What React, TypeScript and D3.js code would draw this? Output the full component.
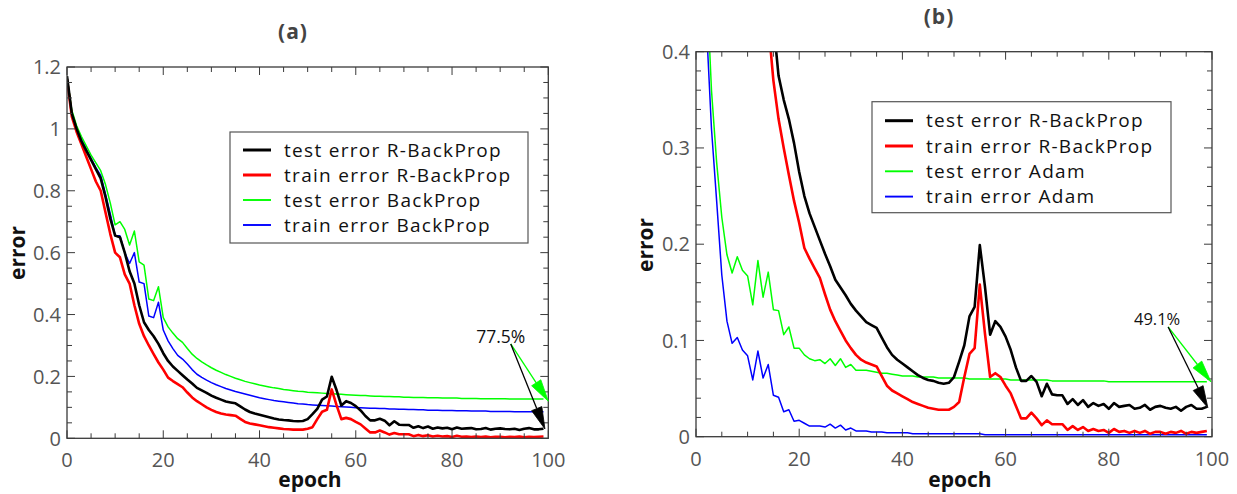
import React from "react";
import * as d3 from "d3";

const epochs = d3.range(0, 100);

const rbpTest = [
  1.17, 1.05, 1.0, 0.96, 0.93, 0.9, 0.87, 0.84, 0.78, 0.71,
  0.655, 0.65, 0.6, 0.54, 0.5, 0.43, 0.375, 0.35, 0.33, 0.305,
  0.275, 0.25, 0.232, 0.218, 0.204, 0.19, 0.177, 0.163, 0.155, 0.147,
  0.138, 0.131, 0.125, 0.119, 0.116, 0.113, 0.103, 0.093, 0.085, 0.08,
  0.076, 0.072, 0.068, 0.064, 0.061, 0.059, 0.058, 0.056, 0.055, 0.056,
  0.062, 0.078, 0.095, 0.125, 0.135, 0.199, 0.156, 0.106, 0.12, 0.114,
  0.104, 0.09, 0.072, 0.058, 0.058, 0.063, 0.057, 0.042, 0.055, 0.044,
  0.043, 0.043, 0.034, 0.039, 0.033, 0.038, 0.031, 0.035, 0.032, 0.034,
  0.029, 0.035, 0.031, 0.032, 0.033, 0.029, 0.03, 0.033, 0.028, 0.031,
  0.032, 0.03, 0.029, 0.031, 0.027, 0.031, 0.033, 0.029, 0.029, 0.031,
];

const rbpTrain = [
  1.16, 1.04, 0.99, 0.95, 0.91, 0.87, 0.83, 0.8, 0.73, 0.66,
  0.6, 0.585, 0.53, 0.5, 0.43, 0.37, 0.33, 0.3, 0.272, 0.245,
  0.222, 0.196, 0.185, 0.175, 0.165, 0.148, 0.132, 0.12, 0.11, 0.1,
  0.092, 0.085, 0.08, 0.077, 0.075, 0.073, 0.063, 0.053, 0.048, 0.045,
  0.042, 0.039, 0.036, 0.034, 0.032, 0.03, 0.029, 0.028, 0.028, 0.028,
  0.031, 0.036, 0.062, 0.086, 0.092, 0.158, 0.107, 0.062, 0.066, 0.062,
  0.053, 0.045, 0.032, 0.019, 0.019, 0.025, 0.019, 0.012, 0.017, 0.013,
  0.013, 0.013, 0.007, 0.011, 0.007, 0.01, 0.006, 0.008, 0.006, 0.007,
  0.004, 0.008, 0.005, 0.006, 0.004, 0.006, 0.004, 0.006, 0.003, 0.005,
  0.005, 0.003, 0.005, 0.004, 0.006, 0.003, 0.005, 0.004, 0.005, 0.006,
];

const bpTest = [
  1.17, 1.06, 1.01, 0.975, 0.945, 0.915, 0.89, 0.865, 0.82, 0.76,
  0.69, 0.7, 0.675, 0.625, 0.67, 0.57, 0.56, 0.45, 0.445, 0.49,
  0.39, 0.36, 0.34, 0.322, 0.31, 0.29, 0.272, 0.258, 0.247, 0.237,
  0.228, 0.22, 0.213, 0.206, 0.2, 0.194, 0.189, 0.184, 0.18, 0.176,
  0.172, 0.169, 0.166, 0.163, 0.161, 0.158, 0.156, 0.154, 0.152, 0.151,
  0.149, 0.148, 0.147, 0.146, 0.145, 0.144, 0.143, 0.142, 0.141, 0.14,
  0.139, 0.138, 0.138, 0.137, 0.136, 0.136, 0.135, 0.135, 0.134, 0.134,
  0.133, 0.133, 0.132, 0.132, 0.132, 0.131, 0.131, 0.131, 0.13, 0.13,
  0.13, 0.13, 0.129, 0.129, 0.129, 0.129, 0.128, 0.128, 0.128, 0.128,
  0.128, 0.128, 0.127, 0.127, 0.127, 0.127, 0.127, 0.127, 0.127, 0.127,
];

const bpTrain = [
  1.17, 1.05, 1.0, 0.965, 0.935, 0.905, 0.875, 0.85, 0.79, 0.725,
  0.655, 0.655, 0.6, 0.565, 0.6, 0.505, 0.5, 0.395, 0.39, 0.44,
  0.35, 0.315, 0.29, 0.268, 0.256, 0.24, 0.222, 0.207, 0.197, 0.188,
  0.18, 0.173, 0.167, 0.161, 0.156, 0.151, 0.147, 0.143, 0.139, 0.135,
  0.131, 0.128, 0.125, 0.122, 0.12, 0.118, 0.116, 0.114, 0.112, 0.111,
  0.109, 0.108, 0.107, 0.106, 0.105, 0.104, 0.103, 0.102, 0.101, 0.1,
  0.099, 0.099, 0.098, 0.097, 0.097, 0.096, 0.096, 0.095, 0.095, 0.094,
  0.094, 0.093, 0.093, 0.092, 0.092, 0.091, 0.091, 0.091, 0.09, 0.09,
  0.09, 0.089, 0.089, 0.089, 0.088, 0.088, 0.088, 0.088, 0.087, 0.087,
  0.087, 0.087, 0.087, 0.086, 0.086, 0.086, 0.086, 0.086, 0.086, 0.086,
];

const adamTest = [
  1.2, 0.75, 0.48, 0.36, 0.285, 0.228, 0.189, 0.17, 0.187, 0.173,
  0.167, 0.137, 0.183, 0.145, 0.171, 0.132, 0.131, 0.106, 0.114, 0.092,
  0.092, 0.085, 0.081, 0.079, 0.08, 0.076, 0.081, 0.074, 0.081, 0.072,
  0.075, 0.069, 0.069, 0.069, 0.068, 0.067, 0.066, 0.066, 0.065, 0.064,
  0.063, 0.063, 0.063, 0.062, 0.062, 0.062, 0.062, 0.061, 0.061, 0.061,
  0.061, 0.061, 0.061, 0.06, 0.06, 0.06, 0.06, 0.06, 0.06, 0.06,
  0.06, 0.059, 0.059, 0.059, 0.059, 0.059, 0.059, 0.059, 0.059, 0.058,
  0.058, 0.058, 0.058, 0.058, 0.058, 0.058, 0.058, 0.058, 0.058, 0.058,
  0.057, 0.057, 0.057, 0.057, 0.057, 0.057, 0.057, 0.057, 0.057, 0.057,
  0.057, 0.057, 0.057, 0.057, 0.057, 0.057, 0.057, 0.057, 0.057, 0.057,
];

const adamTrain = [
  1.1, 0.68, 0.43, 0.32, 0.245, 0.168, 0.12, 0.097, 0.103, 0.09,
  0.084, 0.059, 0.089, 0.061, 0.075, 0.043, 0.041, 0.026, 0.028, 0.016,
  0.017, 0.014, 0.011, 0.011, 0.011, 0.01, 0.013, 0.009, 0.012, 0.007,
  0.009, 0.006, 0.006, 0.006, 0.005, 0.005, 0.005, 0.004, 0.004, 0.004,
  0.004, 0.004, 0.003, 0.003, 0.003, 0.003, 0.003, 0.003, 0.003, 0.003,
  0.003, 0.003, 0.003, 0.003, 0.003, 0.003, 0.002, 0.002, 0.002, 0.002,
  0.002, 0.002, 0.002, 0.002, 0.002, 0.002, 0.002, 0.002, 0.002, 0.002,
  0.002, 0.002, 0.002, 0.002, 0.002, 0.002, 0.002, 0.002, 0.002, 0.002,
  0.002, 0.002, 0.002, 0.002, 0.002, 0.002, 0.002, 0.002, 0.002, 0.002,
  0.002, 0.002, 0.002, 0.002, 0.002, 0.002, 0.002, 0.002, 0.002, 0.002,
];

const legendA = ["test error R-BackProp", "train error R-BackProp", "test error BackProp", "train error BackProp"];
const legendB = ["test error R-BackProp", "train error R-BackProp", "test error Adam", "train error Adam"];
const seriesColors = ["#000000", "#ff0000", "#00ff00", "#0000ff"];
const seriesWidths = [2.6, 2.6, 1.5, 1.5];

const xMajor = [0, 20, 40, 60, 80, 100];
const xMinor = d3.range(0, 101, 5);
const yMajorA = [0, 0.2, 0.4, 0.6, 0.8, 1, 1.2];
const yMinorA = d3.range(0, 1.2001, 0.05);
const yMajorB = [0, 0.1, 0.2, 0.3, 0.4];
const yMinorB = d3.range(0, 0.4001, 0.02);

// annotation anchors in data units (epoch, error)
const annotA = { label: "77.5%", start: [92.2, 0.305], black: [99.3, 0.03], green: [100, 0.12] };
const annotB = { label: "49.1%", start: [91.5, 0.114], black: [99.2, 0.03], green: [99.8, 0.057] };

const FONT = "'Open Sans', 'DejaVu Sans', sans-serif";

type PanelProps = {
  id: string;
  left: number; right: number; top: number; bottom: number;
  yMax: number;
  series: number[][];
  legend: string[];
  yMajor: number[]; yMinor: number[];
  legendBox: { x: number; y: number; w: number; h: number; rowH: number; firstRow: number };
  annot: { label: string; start: number[]; black: number[]; green: number[] };
  labelOffset: [number, number];
  annotSize: number;
  title: string; titleX: number; titleY: number;
  xLabelX: number; yLabelX: number; yLabelY: number;
};

function Arrow({ x1, y1, x2, y2, color }: { x1: number; y1: number; x2: number; y2: number; color: string }) {
  const len = Math.hypot(x2 - x1, y2 - y1);
  const ux = (x2 - x1) / len, uy = (y2 - y1) / len;
  const hl = 22, hw = 5.5;
  const bx = x2 - ux * hl, by = y2 - uy * hl;
  const pts = [
    [x2, y2],
    [bx - uy * hw, by + ux * hw],
    [bx + uy * hw, by - ux * hw],
  ];
  return (
    <g>
      <line x1={x1} y1={y1} x2={bx} y2={by} stroke={color} strokeWidth={1.3} />
      <polygon points={pts.map((p) => p.join(",")).join(" ")} fill={color} stroke={color} strokeWidth={0.8} />
    </g>
  );
}

function Panel(p: PanelProps) {
  const x = d3.scaleLinear().domain([0, 100]).range([p.left, p.right]);
  const y = d3.scaleLinear().domain([0, p.yMax]).range([p.bottom, p.top]);
  const line = d3.line<number>().x((_, i) => x(epochs[i])).y((d) => y(d));
  const fmt = (v: number) => String(+v.toFixed(2));
  const isMajorX = (v: number) => xMajor.some((m) => Math.abs(m - v) < 1e-6);
  const isMajorY = (v: number) => p.yMajor.some((m) => Math.abs(m - v) < 1e-6);
  const axisColor = "#3a3a3a";
  const tickColor = "#555";
  const lb = p.legendBox;
  const a = p.annot;
  return (
    <g>
      <defs>
        <clipPath id={`clip-${p.id}`}>
          <rect x={p.left} y={p.top} width={p.right - p.left} height={p.bottom - p.top} />
        </clipPath>
      </defs>
      <g clipPath={`url(#clip-${p.id})`}>
        {[3, 2, 1, 0].map((i) => (
          <path key={i} d={line(p.series[i]) || ""} fill="none" stroke={seriesColors[i]} strokeWidth={seriesWidths[i]} strokeLinejoin="round" />
        ))}
      </g>
      {xMinor.map((v) => {
        const L = isMajorX(v) ? 8 : 5;
        return (
          <g key={`xt${v}`} stroke={axisColor} strokeWidth={1}>
            <line x1={x(v)} x2={x(v)} y1={p.bottom} y2={p.bottom - L} />
            <line x1={x(v)} x2={x(v)} y1={p.top} y2={p.top + L} />
          </g>
        );
      })}
      {p.yMinor.map((v) => {
        const L = isMajorY(v) ? 8 : 5;
        return (
          <g key={`yt${v}`} stroke={axisColor} strokeWidth={1}>
            <line x1={p.left} x2={p.left + L} y1={y(v)} y2={y(v)} />
            <line x1={p.right} x2={p.right - L} y1={y(v)} y2={y(v)} />
          </g>
        );
      })}
      <rect x={p.left} y={p.top} width={p.right - p.left} height={p.bottom - p.top} fill="none" stroke={axisColor} strokeWidth={1.3} />
      {xMajor.map((v) => (
        <text key={`xl${v}`} x={x(v)} y={p.bottom + 29} textAnchor="middle" fontSize={20} fill={tickColor} fontFamily={FONT}>
          {fmt(v)}
        </text>
      ))}
      {p.yMajor.map((v) => (
        <text key={`yl${v}`} x={p.left - 6} y={y(v)} dy="0.36em" textAnchor="end" fontSize={20} fill={tickColor} fontFamily={FONT}>
          {fmt(v)}
        </text>
      ))}
      <rect x={lb.x} y={lb.y} width={lb.w} height={lb.h} fill="#fff" stroke="#555" strokeWidth={1.2} />
      {p.legend.map((t, i) => {
        const cy = lb.y + lb.firstRow + i * lb.rowH;
        return (
          <g key={t}>
            <line x1={lb.x + 13} x2={lb.x + 41} y1={cy} y2={cy} stroke={seriesColors[i]} strokeWidth={seriesWidths[i] + 0.4} />
            <text x={lb.x + 54} y={cy} dy="0.35em" fontSize={19} letterSpacing={1.3} fill="#111" fontFamily={FONT}>{t}</text>
          </g>
        );
      })}
      <text x={x(a.start[0]) + p.labelOffset[0]} y={y(a.start[1]) + p.labelOffset[1]} textAnchor="middle" fontSize={p.annotSize} fill="#111" fontFamily={FONT}>
        {a.label}
      </text>
      <Arrow x1={x(a.start[0])} y1={y(a.start[1])} x2={x(a.green[0])} y2={y(a.green[1])} color="#00ff00" />
      <Arrow x1={x(a.start[0])} y1={y(a.start[1])} x2={x(a.black[0])} y2={y(a.black[1])} color="#000" />
      <text x={p.titleX} y={p.titleY} dy="0.35em" textAnchor="middle" fontSize={21} letterSpacing={1} fontWeight="bold" fill="#444" fontFamily={FONT}>{p.title}</text>
      <text x={p.xLabelX} y={487} textAnchor="middle" fontSize={21} fontWeight="bold" fill="#111" fontFamily={FONT}>epoch</text>
      <text transform={`translate(${p.yLabelX},${p.yLabelY}) rotate(-90)`} textAnchor="middle" dy="0.35em" fontSize={21} fontWeight="bold" fill="#111" fontFamily={FONT}>error</text>
    </g>
  );
}

export default function App() {
  return (
    <svg width={1237} height={494} style={{ position: "absolute", left: 0, top: 0, background: "#fff" }}>
      <rect width={1237} height={494} fill="#fff" />
      <Panel
        id="a" left={67} right={548.3} top={67} bottom={438.3} yMax={1.2}
        series={[rbpTest, rbpTrain, bpTest, bpTrain]} legend={legendA}
        yMajor={yMajorA} yMinor={yMinorA}
        legendBox={{ x: 230, y: 132, w: 298, h: 111, rowH: 25, firstRow: 18 }}
        annot={annotA} labelOffset={[-10, -1]} annotSize={17.5}
        title="(a)" titleX={293} titleY={32}
        xLabelX={310} yLabelX={18} yLabelY={253}
      />
      <Panel
        id="b" left={696} right={1212} top={51.7} bottom={436.7} yMax={0.4}
        series={[rbpTest, rbpTrain, adamTest, adamTrain]} legend={legendB}
        yMajor={yMajorB} yMinor={yMinorB}
        legendBox={{ x: 872, y: 101.7, w: 299, h: 111, rowH: 25.3, firstRow: 19 }}
        annot={annotB} labelOffset={[-11, -2]} annotSize={16.5}
        title="(b)" titleX={939} titleY={17}
        xLabelX={960} yLabelX={646} yLabelY={245}
      />
    </svg>
  );
}
